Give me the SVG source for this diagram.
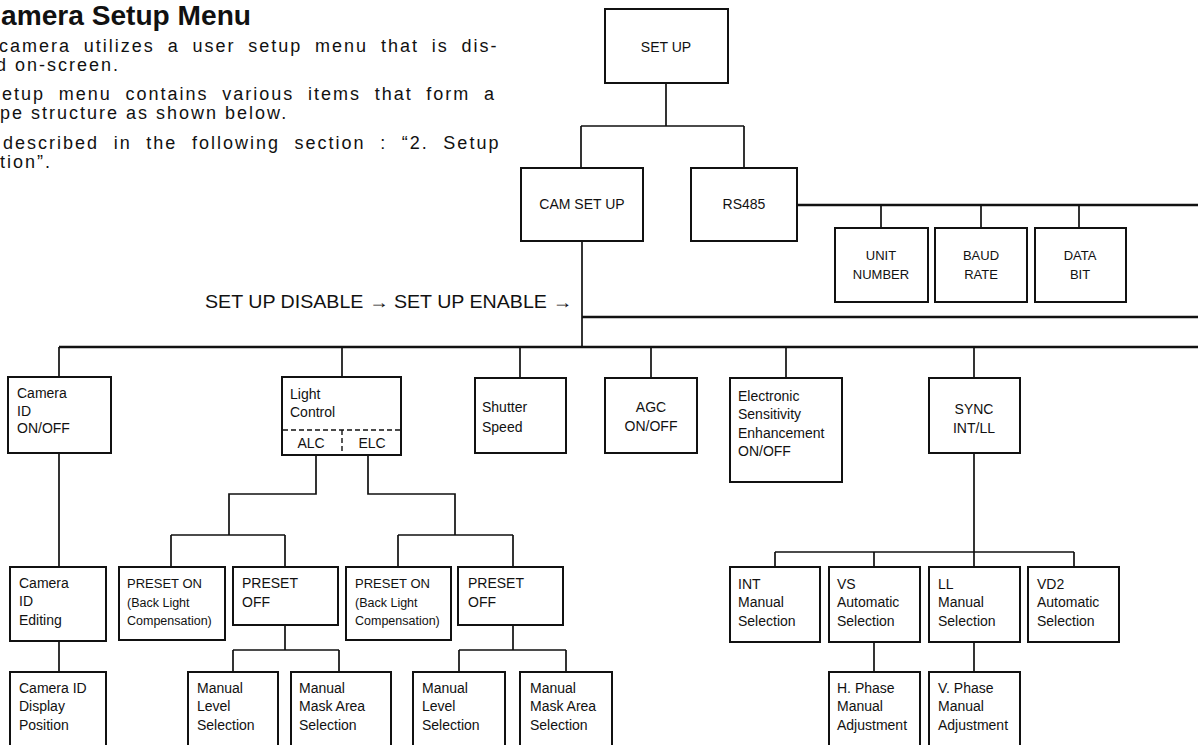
<svg xmlns="http://www.w3.org/2000/svg" width="1198" height="745" viewBox="0 0 1198 745">
<style>
  text { font-family: "Liberation Sans", Arial, sans-serif; fill: #111; }
  .body { font-size: 18px; letter-spacing: 2px; }
  .title { font-size: 27px; font-weight: bold; }
  .t14 { font-size: 14px; }
  .t13 { font-size: 13px; }
  .t12 { font-size: 12.5px; }
  .c { text-anchor: middle; }
  .box { fill: #fff; stroke: #111; stroke-width: 2; }
  .con { fill: none; stroke: #111; stroke-width: 1.7; }
  .bar { fill: none; stroke: #111; stroke-width: 2.4; }
  .dash { fill: none; stroke: #111; stroke-width: 1.4; stroke-dasharray: 5 3; }
</style>
<rect width="1198" height="745" fill="#fff"/>

<g id="intro">
  <text class="title" x="1" y="25" textLength="250" lengthAdjust="spacingAndGlyphs">amera Setup Menu</text>
  <text class="body" x="-1" y="52" word-spacing="5.8">camera utilizes a user setup menu that is dis-</text>
  <text class="body" x="-4" y="71">d on-screen.</text>
  <text class="body" x="2" y="100" word-spacing="6.7">etup menu contains various items that form a</text>
  <text class="body" x="0" y="119">pe structure as shown below.</text>
  <text class="body" x="3" y="149" word-spacing="7.6">described in the following section : “2. Setup</text>
  <text class="body" x="0" y="168">tion”.</text>
</g>

<g id="connectors">
  <path class="con" d="M666,83 V126 M581,126 H744 M581,126 V168 M744,126 V168"/>
  <path class="bar" d="M797,205 H1198"/>
  <path class="con" d="M881,205 V228 M981,205 V228 M1079,205 V228"/>
  <path class="con" d="M582,241 V347"/>
  <path class="bar" d="M582,317 H1198"/>
  <path class="bar" d="M59,347 H1198"/>
  <path class="con" d="M59,347 V377 M342,347 V377 M520,347 V378 M651,347 V378 M786,347 V378 M974,347 V378"/>
  <path class="con" d="M59,453 V567 M59,641 V672"/>
  <path class="con" d="M316,455 V494 H229 V535 M171,535 H285 M171,535 V567 M285,535 V567"/>
  <path class="con" d="M368,455 V494 H455 V535 M398,535 H513 M398,535 V567 M513,535 V567"/>
  <path class="con" d="M285,625 V650 M233,650 H339 M233,650 V672 M339,650 V672"/>
  <path class="con" d="M513,625 V650 M459,650 H566 M459,650 V672 M566,650 V672"/>
  <path class="con" d="M974,453 V552 M775,552 H1074 M775,552 V567 M874,552 V567 M974,552 V567 M1074,552 V567"/>
  <path class="con" d="M874,642 V672 M974,642 V672"/>
</g>

<g id="n-setup">
  <rect class="box" x="605" y="9" width="123" height="74"/>
  <text class="t14 c" x="666" y="52">SET UP</text>
</g>
<g id="n-camsetup">
  <rect class="box" x="521" y="168" width="122" height="73"/>
  <text class="t14 c" x="582" y="209">CAM SET UP</text>
</g>
<g id="n-rs485">
  <rect class="box" x="691" y="168" width="106" height="73"/>
  <text class="t14 c" x="744" y="209">RS485</text>
</g>
<g id="n-unit">
  <rect class="box" x="835" y="228" width="93" height="74"/>
  <text class="t13 c" x="881" y="260">UNIT</text>
  <text class="t13 c" x="881" y="279">NUMBER</text>
</g>
<g id="n-baud">
  <rect class="box" x="935" y="228" width="92" height="74"/>
  <text class="t13 c" x="981" y="260">BAUD</text>
  <text class="t13 c" x="981" y="279">RATE</text>
</g>
<g id="n-data">
  <rect class="box" x="1035" y="228" width="91" height="74"/>
  <text class="t13 c" x="1080" y="260">DATA</text>
  <text class="t13 c" x="1080" y="279">BIT</text>
</g>

<g id="enable-label">
  <text x="205" y="308" font-size="18" textLength="367" lengthAdjust="spacingAndGlyphs">SET UP DISABLE → SET UP ENABLE →</text>
</g>

<g id="n-camid">
  <rect class="box" x="8" y="377" width="103" height="76"/>
  <text class="t14" x="17" y="398">Camera</text>
  <text class="t14" x="17" y="416">ID</text>
  <text class="t14" x="17" y="433">ON/OFF</text>
</g>
<g id="n-light">
  <rect class="box" x="282" y="377" width="119" height="78"/>
  <text class="t14" x="290" y="399">Light</text>
  <text class="t14" x="290" y="417">Control</text>
  <path class="dash" d="M283,430 H400 M342,430 V454"/>
  <text class="t14 c" x="311" y="448">ALC</text>
  <text class="t14 c" x="372" y="448">ELC</text>
</g>
<g id="n-shutter">
  <rect class="box" x="475" y="378" width="91" height="75"/>
  <text class="t14" x="482" y="412">Shutter</text>
  <text class="t14" x="482" y="432">Speed</text>
</g>
<g id="n-agc">
  <rect class="box" x="605" y="378" width="92" height="75"/>
  <text class="t14 c" x="651" y="412">AGC</text>
  <text class="t14 c" x="651" y="431">ON/OFF</text>
</g>
<g id="n-esens">
  <rect class="box" x="730" y="378" width="112" height="104"/>
  <text class="t14" x="738" y="401">Electronic</text>
  <text class="t14" x="738" y="419">Sensitivity</text>
  <text class="t14" x="738" y="438">Enhancement</text>
  <text class="t14" x="738" y="456">ON/OFF</text>
</g>
<g id="n-sync">
  <rect class="box" x="929" y="378" width="91" height="75"/>
  <text class="t14 c" x="974" y="414">SYNC</text>
  <text class="t14 c" x="974" y="433">INT/LL</text>
</g>

<g id="n-camedit">
  <rect class="box" x="10" y="567" width="96" height="74"/>
  <text class="t14" x="19" y="588">Camera</text>
  <text class="t14" x="19" y="606">ID</text>
  <text class="t14" x="19" y="625">Editing</text>
</g>
<g id="n-preseton1">
  <rect class="box" x="119" y="567" width="106" height="73"/>
  <text class="t13" x="127" y="588">PRESET ON</text>
  <text class="t12" x="127" y="607">(Back Light</text>
  <text class="t12" x="127" y="625">Compensation)</text>
</g>
<g id="n-presetoff1">
  <rect class="box" x="233" y="567" width="105" height="58"/>
  <text class="t14" x="242" y="588">PRESET</text>
  <text class="t14" x="242" y="607">OFF</text>
</g>
<g id="n-preseton2">
  <rect class="box" x="346" y="567" width="105" height="73"/>
  <text class="t13" x="355" y="588">PRESET ON</text>
  <text class="t12" x="355" y="607">(Back Light</text>
  <text class="t12" x="355" y="625">Compensation)</text>
</g>
<g id="n-presetoff2">
  <rect class="box" x="458" y="567" width="105" height="58"/>
  <text class="t14" x="468" y="588">PRESET</text>
  <text class="t14" x="468" y="607">OFF</text>
</g>
<g id="n-int">
  <rect class="box" x="730" y="567" width="90" height="75"/>
  <text class="t14" x="738" y="589">INT</text>
  <text class="t14" x="738" y="607">Manual</text>
  <text class="t14" x="738" y="626">Selection</text>
</g>
<g id="n-vs">
  <rect class="box" x="829" y="567" width="91" height="75"/>
  <text class="t14" x="837" y="589">VS</text>
  <text class="t14" x="837" y="607">Automatic</text>
  <text class="t14" x="837" y="626">Selection</text>
</g>
<g id="n-ll">
  <rect class="box" x="929" y="567" width="91" height="75"/>
  <text class="t14" x="938" y="589">LL</text>
  <text class="t14" x="938" y="607">Manual</text>
  <text class="t14" x="938" y="626">Selection</text>
</g>
<g id="n-vd2">
  <rect class="box" x="1028" y="567" width="91" height="75"/>
  <text class="t14" x="1037" y="589">VD2</text>
  <text class="t14" x="1037" y="607">Automatic</text>
  <text class="t14" x="1037" y="626">Selection</text>
</g>

<g id="n-camdisp">
  <rect class="box" x="10" y="672" width="96" height="90"/>
  <text class="t14" x="19" y="693">Camera ID</text>
  <text class="t14" x="19" y="711">Display</text>
  <text class="t14" x="19" y="730">Position</text>
</g>
<g id="n-manlevel1">
  <rect class="box" x="188" y="672" width="90" height="90"/>
  <text class="t14" x="197" y="693">Manual</text>
  <text class="t14" x="197" y="711">Level</text>
  <text class="t14" x="197" y="730">Selection</text>
</g>
<g id="n-manmask1">
  <rect class="box" x="291" y="672" width="100" height="90"/>
  <text class="t14" x="299" y="693">Manual</text>
  <text class="t14" x="299" y="711">Mask Area</text>
  <text class="t14" x="299" y="730">Selection</text>
</g>
<g id="n-manlevel2">
  <rect class="box" x="413" y="672" width="92" height="90"/>
  <text class="t14" x="422" y="693">Manual</text>
  <text class="t14" x="422" y="711">Level</text>
  <text class="t14" x="422" y="730">Selection</text>
</g>
<g id="n-manmask2">
  <rect class="box" x="520" y="672" width="92" height="90"/>
  <text class="t14" x="530" y="693">Manual</text>
  <text class="t14" x="530" y="711">Mask Area</text>
  <text class="t14" x="530" y="730">Selection</text>
</g>
<g id="n-hphase">
  <rect class="box" x="829" y="672" width="91" height="90"/>
  <text class="t14" x="837" y="693">H. Phase</text>
  <text class="t14" x="837" y="711">Manual</text>
  <text class="t14" x="837" y="730">Adjustment</text>
</g>
<g id="n-vphase">
  <rect class="box" x="929" y="672" width="91" height="90"/>
  <text class="t14" x="938" y="693">V. Phase</text>
  <text class="t14" x="938" y="711">Manual</text>
  <text class="t14" x="938" y="730">Adjustment</text>
</g>
</svg>
